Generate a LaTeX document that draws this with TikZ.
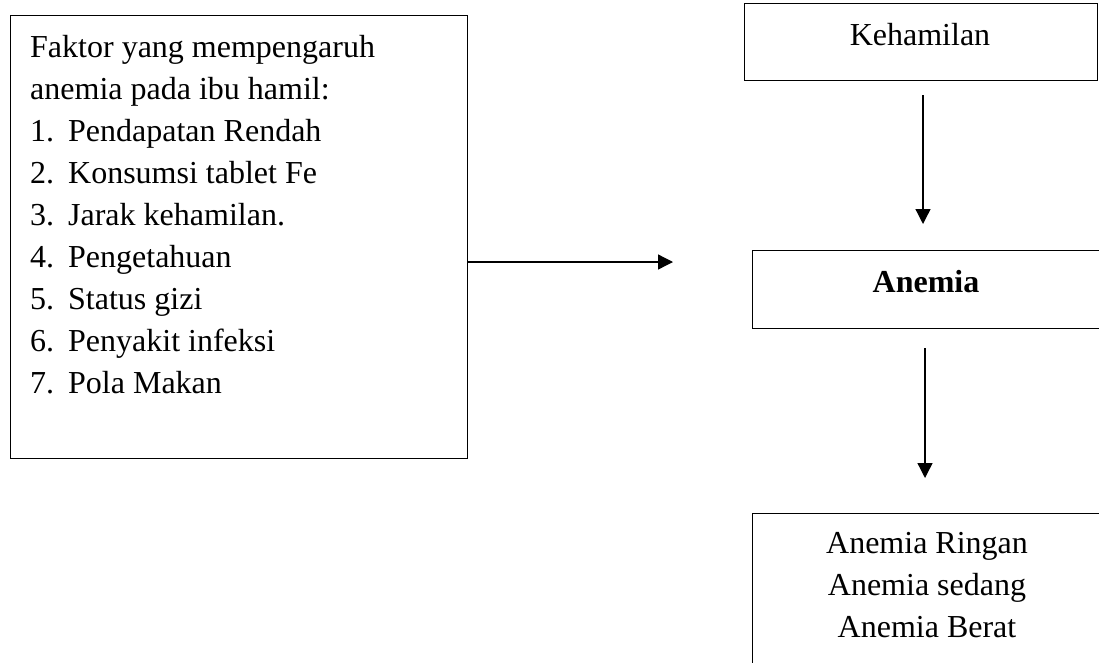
\documentclass[tikz,border=0pt]{standalone}
\usepackage{fontspec}
\setmainfont{Liberation Serif}
\usetikzlibrary{arrows.meta}
\begin{document}
\begin{tikzpicture}[x=1pt,y=-1pt,
  box/.style={draw=black,line width=1.4pt,rectangle,inner sep=0pt,anchor=north west},
  txt/.style={inner sep=0pt,font=\fontsize{32}{42}\selectfont},
  arr/.style={-{Triangle[length=15pt,width=15pt]},line width=1.3pt}]
\useasboundingbox (0,0) rectangle (1099,662);
\clip (0,0) rectangle (1099,662);
% left box
\node[box,minimum width=457pt,minimum height=443pt] (fak) at (10,15) {};
\node[txt,anchor=base west] (l1) at (30,57) {Faktor yang mempengaruh};
\node[txt,anchor=base west] (l2) at (30,99) {anemia pada ibu hamil:};
\foreach \n/\t [count=\i from 3] in {1./Pendapatan Rendah,2./Konsumsi tablet Fe,3./Jarak kehamilan.,4./Pengetahuan,5./Status gizi,6./Penyakit infeksi,7./Pola Makan}
  \node[txt,anchor=base west] (l\i) at (30,{57+42*(\i-1)}) {\makebox[38pt][l]{\n}\t};
% right column
\node[box,minimum width=353pt,minimum height=77pt] (keh) at (744,3) {};
\node[txt,anchor=base] (kehtxt) at (920,45) {Kehamilan};
\node[box,minimum width=400pt,minimum height=78pt] (anem) at (752,250) {};
\node[txt,anchor=base] (anemtxt) at (926,292) {\bfseries Anemia};
\node[box,minimum width=400pt,minimum height=300pt] (grade) at (752,513) {};
\node[txt,anchor=base] (g1) at (927,553) {Anemia Ringan};
\node[txt,anchor=base] (g2) at (927,595) {Anemia sedang};
\node[txt,anchor=base] (g3) at (927,637) {Anemia Berat};
% connectors
\coordinate (h2) at (673,262);
\draw[arr] (fak.east |- h2) -- (h2);
\coordinate (v1s) at (923,95);
\coordinate (v1e) at (923,224);
\draw[arr] (v1s) -- (v1e);
\coordinate (v2s) at (925,348);
\coordinate (v2e) at (925,478);
\draw[arr] (v2s) -- (v2e);
\end{tikzpicture}
\end{document}
